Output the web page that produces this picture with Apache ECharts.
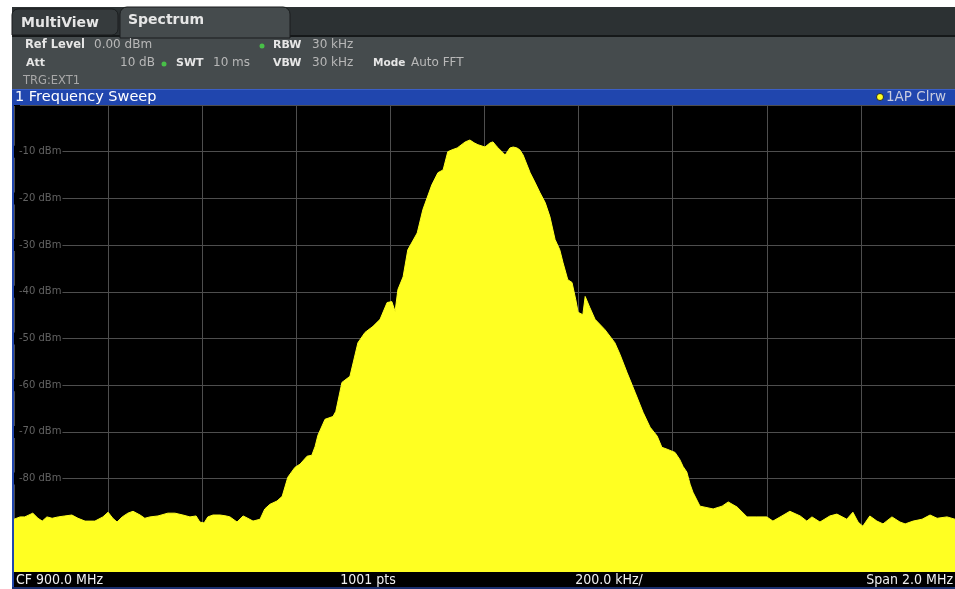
<!DOCTYPE html>
<html>
<head>
<meta charset="utf-8">
<script src="https://cdn.jsdelivr.net/npm/echarts@6/dist/echarts.min.js"></script>
<style>
html,body{margin:0;padding:0;background:#fff;}
#chart{width:955px;height:589px;}
</style>
</head>
<body>
<div id="chart"></div>
<script>
// Frequency offset from CF 900.0 MHz (kHz)
var freqOffsetKHz = [-1000,-987,-977,-960,-949,-940,-930,-919,-906,-892,-877,-864,-849,-828,-811,-800,-790,-781,-770,-758,-747,-732,-722,-711,-694,-673,-658,-641,-626,-613,-605,-596,-588,-577,-562,-549,-541,-526,-513,-503,-492,-477,-467,-456,-441,-430,-418,-403,-392,-377,-367,-360,-354,-339,-322,-316,-303,-286,-269,-254,-237,-222,-207,-197,-190,-184,-173,-163,-143,-131,-112,-99,-88,-78,-69,-58,-41,-31,-22,-14,1,12,18,27,44,54,61,69,75,82,97,107,118,129,139,150,160,167,177,186,194,199,209,214,224,235,256,277,288,303,320,337,352,367,377,388,405,415,422,430,437,443,458,486,505,518,537,558,579,600,613,632,649,671,685,696,713,734,749,770,783,794,804,819,834,847,866,883,894,911,930,947,962,983,1000];
// Trace level (dBm)
var levelDbm = [-88.7,-88.2,-88.2,-87.4,-88.5,-89.1,-88.2,-88.5,-88.2,-88.0,-87.8,-88.5,-89.1,-89.1,-88.2,-87.2,-88.5,-89.3,-88.2,-87.4,-87.0,-87.8,-88.5,-88.2,-88.0,-87.4,-87.4,-87.8,-88.2,-88.0,-89.3,-89.5,-88.2,-87.8,-87.8,-88.0,-88.2,-89.3,-88.0,-88.5,-89.1,-88.7,-86.5,-85.5,-84.8,-83.8,-79.7,-77.6,-76.9,-75.2,-75.0,-73.1,-70.7,-67.3,-66.7,-65.6,-59.4,-58.1,-50.9,-48.7,-47.4,-45.9,-42.3,-42.1,-44.2,-39.5,-36.8,-31.0,-27.4,-22.4,-17.1,-14.5,-13.9,-10.0,-9.6,-9.2,-7.9,-7.5,-8.1,-8.5,-9.0,-8.1,-7.9,-9.0,-10.7,-9.2,-9.0,-9.2,-9.6,-10.7,-14.5,-16.5,-18.8,-20.9,-23.9,-28.8,-31.0,-33.8,-37.4,-38.0,-41.7,-44.4,-44.9,-41.0,-43.4,-45.9,-48.1,-50.9,-53.4,-57.3,-61.5,-65.8,-69.0,-70.9,-73.3,-73.7,-74.4,-75.9,-77.4,-78.6,-81.2,-82.9,-85.9,-86.5,-85.9,-85.0,-86.1,-88.2,-88.2,-88.2,-89.1,-88.0,-87.0,-88.0,-89.1,-88.2,-89.3,-88.0,-87.6,-88.7,-87.2,-89.3,-90.2,-88.0,-89.1,-89.7,-88.2,-89.3,-89.7,-89.1,-88.7,-87.8,-88.5,-88.2,-88.7];
var yTickValues = [-10,-20,-30,-40,-50,-60,-70,-80];
var footerTexts = ['CF 900.0 MHz','1001 pts','200.0 kHz/','Span 2.0 MHz'];

var data = freqOffsetKHz.map(function(f,i){return [f, levelDbm[i]];});
var F = '"DejaVu Sans", Verdana, sans-serif';
var FC = '"DejaVu Sans Condensed", "Liberation Sans Narrow", "DejaVu Sans", sans-serif';

function txt(t,x,y,opts){
  opts = opts||{};
  return {type:'text', x:x, y:y, z:100, style:{text:t, fill:opts.fill||'#c8c8c8',
    font:(opts.weight||'normal')+' '+(opts.size||12)+'px '+(opts.family||F),
    align:opts.align||'left', verticalAlign:'middle'}};
}
var B = {weight:'bold',size:11,fill:'#e6e6e6'};
var V = {size:12,fill:'#b8b8b8'};

var chart = echarts.init(document.getElementById('chart'));
chart.setOption({
  backgroundColor:'#ffffff',
  animation:false,
  grid:{left:14,right:0,top:105,bottom:17,show:true,backgroundColor:'#000000',borderWidth:0},
  xAxis:{type:'value',min:-1000,max:1000,interval:200,
    axisLine:{show:false},axisTick:{show:false},axisLabel:{show:false},
    splitLine:{show:true,lineStyle:{color:'#4e4e4e',width:1}}},
  yAxis:{type:'value',min:-100,max:0,interval:10,
    axisLine:{show:false},axisTick:{show:false},
    splitLine:{show:true,lineStyle:{color:'#4e4e4e',width:1}},
    axisLabel:{inside:true,margin:0,color:'#626262',fontSize:10,fontFamily:F,
      backgroundColor:'#000',padding:[1,1,1,5],
      formatter:function(v){return yTickValues.indexOf(v)>=0 ? v+' dBm' : '';}}},
  series:[{type:'line',data:data,showSymbol:false,smooth:false,
    lineStyle:{color:'#ffff22',width:1},
    areaStyle:{color:'#ffff22',opacity:1,origin:'start'},z:3}],
  graphic:[
    // tab bar
    {type:'rect',shape:{x:12,y:7,width:943,height:29},style:{fill:'#2c3133'},z:90},
    {type:'rect',shape:{x:12,y:35,width:943,height:2},style:{fill:'#151819'},z:91},
    {type:'rect',shape:{x:12,y:9,width:106,height:26,r:[6,6,6,0]},style:{fill:'#363b3d',stroke:'#1a1d1e',lineWidth:1},z:92},
    {type:'rect',shape:{x:120,y:7,width:170,height:31,r:[7,7,0,0]},style:{fill:'#454b4d',stroke:'#1a1d1e',lineWidth:1},z:92},
    txt('MultiView',21,23,{weight:'bold',size:14,fill:'#e6e6e6'}),
    txt('Spectrum',128,20,{weight:'bold',size:14,fill:'#e6e6e6'}),
    // info panel
    {type:'rect',shape:{x:12,y:37,width:943,height:52},style:{fill:'#454b4d'},z:90},
    txt('Ref Level',25,45,{weight:'bold',size:11.5,fill:'#e6e6e6'}),
    txt('0.00 dBm',94,45,V),
    {type:'circle',shape:{cx:262,cy:46,r:2.5},style:{fill:'#48c048'},z:100},
    txt('RBW',273,45,B),
    txt('30 kHz',312,45,V),
    txt('Att',26,63,B),
    txt('10 dB',120,63,V),
    {type:'circle',shape:{cx:164,cy:64,r:2.5},style:{fill:'#48c048'},z:100},
    txt('SWT',176,63,B),
    txt('10 ms',213,63,V),
    txt('VBW',273,63,B),
    txt('30 kHz',312,63,V),
    txt('Mode',373,63,{weight:'bold',size:10.5,fill:'#e6e6e6'}),
    txt('Auto FFT',411,63,V),
    txt('TRG:EXT1',23,81,{size:11.5,fill:'#a8a8a8'}),
    // blue title bar
    {type:'rect',shape:{x:12,y:89,width:943,height:16},style:{fill:'#2046ae'},z:90},
    {type:'rect',shape:{x:12,y:89,width:943,height:1},style:{fill:'#3a5fc8'},z:91},
    txt('1 Frequency Sweep',15,97,{size:14.5,fill:'#ffffff'}),
    {type:'circle',shape:{cx:880,cy:97,r:3.5},style:{fill:'#ffff22',stroke:'#111',lineWidth:0.8},z:100},
    txt('1AP Clrw',886,97,{size:13.5,fill:'#c8cce0'}),
    // left border
    {type:'rect',shape:{x:12,y:105,width:2,height:484},style:{fill:'#2046ae'},z:90},
    // footer
    {type:'rect',shape:{x:14,y:572,width:941,height:17},style:{fill:'#000000'},z:90},
    {type:'rect',shape:{x:12,y:587,width:943,height:2},style:{fill:'#1a2f70'},z:91},
    txt(footerTexts[0],16,580,{size:14,family:FC,fill:'#f0f0f0'}),
    txt(footerTexts[1],368,580,{size:14,family:FC,fill:'#f0f0f0',align:'center'}),
    txt(footerTexts[2],609,580,{size:14,family:FC,fill:'#f0f0f0',align:'center'}),
    txt(footerTexts[3],953,580,{size:14,family:FC,fill:'#f0f0f0',align:'right'})
  ]
});
</script>
</body>
</html>
